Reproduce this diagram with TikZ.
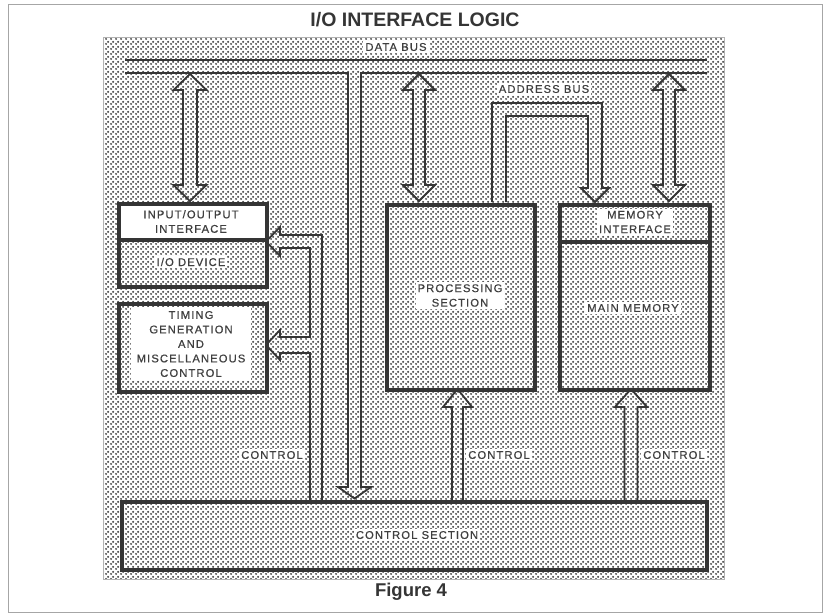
\documentclass[tikz,border=0pt]{standalone}
\usepackage{fontspec}
\setmainfont{Liberation Sans}
\newfontfamily\lblfont[LetterSpace=10,FakeBold=0.6]{Liberation Sans}
\usetikzlibrary{patterns.meta,calc}
\definecolor{ink}{HTML}{353535}
\definecolor{txt}{HTML}{3F3F3F}
\tikzdeclarepattern{
  name=halftone, type=uncolored,
  bounding box={(0,0) and (5pt,5pt)},
  tile size={(5pt,5pt)},
  code={\fill (1.25pt,1.25pt) circle (1.25pt); \fill (3.75pt,3.75pt) circle (1.25pt);}
}
\newcommand\DblArrow[5]{% cx, ytop, ybot, shaft half, head half
  \draw[hol] (#1,#2) -- (#1+#5,#2+16) -- (#1+#4,#2+16) -- (#1+#4,#3-16) -- (#1+#5,#3-16)
    -- (#1,#3) -- (#1-#5,#3-16) -- (#1-#4,#3-16) -- (#1-#4,#2+16) -- (#1-#5,#2+16) -- cycle;}
\newcommand\UpArrow[5]{% cx, ytip, ybase, shaft half, head half
  \draw[hol] (#1-#4,#3) -- (#1-#4,#2+18) -- (#1-#5,#2+18) -- (#1,#2) -- (#1+#5,#2+18)
    -- (#1+#4,#2+18) -- (#1+#4,#3);}
\begin{document}
\begin{tikzpicture}[x=1pt,y=-1pt,
  frameline/.style={draw=gray!70, line width=0.9pt},
  blk/.style={draw=ink, line width=3.8pt, inner sep=0pt, anchor=north west},
  hol/.style={draw=ink, line width=1.8pt, line join=miter},
  lbl/.style={font=\lblfont\fontsize{11.2}{14.5}\selectfont, text=txt, fill=white, inner sep=2pt, align=center},
  ttl/.style={font=\bfseries\fontsize{19.5}{22}\selectfont, text=ink, inner sep=0pt}
]
\useasboundingbox (0,0) rectangle (826,614);
\fill[white] (0,0) rectangle (826,614);
% outer frame
\draw[frameline] (8,4) rectangle (822,612);
% shaded panel
\path[pattern={halftone}, pattern color=ink!90] (103,37) rectangle (724,579);
\draw[gray!60, line width=0.5pt] (103,37) rectangle (724,579);

% title and caption
\node[ttl] (title) at (415,20) {I/O INTERFACE LOGIC};
\node[ttl, font=\bfseries\fontsize{18.5}{22}\selectfont] (fig) at (411,592) {Figure 4};

% blocks
\fill[white] (117,202) rectangle (265,240);
\node[blk, minimum width=148pt, minimum height=83pt] (io) at (117,202) {};
\draw[ink, line width=3.8pt] (io.west |- 0,240) -- (io.east |- 0,240);
\node[blk, minimum width=148pt, minimum height=88pt] (tim) at (117,302) {};
\node[blk, minimum width=148pt, minimum height=185pt] (proc) at (385,203) {};
\node[blk, minimum width=150pt, minimum height=185pt] (mem) at (558,203) {};
\draw[ink, line width=3.8pt] (mem.west |- 0,242) -- (mem.east |- 0,242);
\node[blk, minimum width=585pt, minimum height=68pt] (ctl) at (120,500) {};

% data bus
\draw[hol] (125,60) -- (707,60);
\draw[hol] (125,73) -- (348,73) -- (348,487) -- (338,487) -- (354.5,498.5) -- (371,487)
  -- (361,487) -- (361,73) -- (707,73);
% data bus branches
\DblArrow{190}{74}{201}{7}{16.5}
\DblArrow{419}{74}{201}{6}{16}
\DblArrow{669}{74}{201}{6}{16}
% address bus
\draw[hol] (492,202) -- (492,103) -- (602,103) -- (602,188) -- (609,188) -- (595,202)
  -- (581,188) -- (588,188) -- (588,116) -- (506,116) -- (506,202);
% control up arrows
\UpArrow{457.5}{389}{500}{5.5}{14.5}
\UpArrow{631}{389}{500}{6.5}{16}
% control to I/O and timing
\draw[hol] (322,500) -- (322,235) -- (280,235) -- (280,227) -- (266,241.5) -- (280,256)
  -- (280,248) -- (310,248) -- (310,337) -- (280,337) -- (280,330) -- (266,345)
  -- (280,360) -- (280,353) -- (310,353) -- (310,500);

% labels
\node[lbl] (ldb) at (396,47) {DATA BUS};
\node[lbl] (lab) at (544,89) {ADDRESS BUS};
\node[lbl, fill=none] (lio) at (191,221.5) {INPUT/OUTPUT\\INTERFACE};
\node[lbl] (ldev) at (191,262) {I/O DEVICE};
\node[lbl, inner xsep=6pt, inner ysep=4pt] (ltim) at (191,344) {TIMING\\GENERATION\\AND\\MISCELLANEOUS\\CONTROL};
\node[lbl] (lproc) at (460,295.5) {PROCESSING\\SECTION};
\node[lbl] (lmi) at (635,222) {MEMORY\\INTERFACE};
\node[lbl] (lmm) at (633,308) {MAIN MEMORY};
\node[lbl] (lc1) at (272,455) {CONTROL};
\node[lbl] (lc2) at (499,455) {CONTROL};
\node[lbl] (lc3) at (674,455) {CONTROL};
\node[lbl] (lcs) at (417,535) {CONTROL SECTION};
\end{tikzpicture}
\end{document}
